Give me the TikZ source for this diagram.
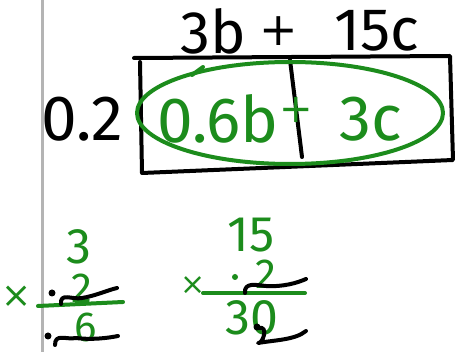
\documentclass[tikz,border=0pt]{standalone}
\usepackage{fontspec}
\setmainfont{Fira Sans}
\newfontfamily\plusfont{DejaVu Sans}
\definecolor{hgreen}{RGB}{28,140,28}
\definecolor{hgray}{RGB}{180,180,180}
\tikzset{
  ink/.style={line width=4pt, line cap=round, line join=round},
  blk/.style={ink, black},
  grn/.style={ink, hgreen},
  bigtxt/.style={inner sep=0pt, font=\fontsize{60}{60}\selectfont},
  midtxt/.style={inner sep=0pt, font=\fontsize{64}{64}\selectfont},
  smalltxt/.style={inner sep=0pt, font=\fontsize{50}{50}\selectfont, text=hgreen},
  twotxt/.style={inner sep=0pt, font=\fontsize{42}{42}\selectfont, text=hgreen},
  optxt/.style={inner sep=0pt, font=\plusfont\fontsize{46}{46}\selectfont},
}
\begin{document}
\begin{tikzpicture}[x=1pt,y=-1pt]
\useasboundingbox[fill=white] (0,0) rectangle (461,352);
% margin line
\draw[hgray, line width=3pt] (42,0) -- (42,352);
% header
\node[bigtxt] (h3b) at (213,31) {3b};
\node[optxt] (hplus) at (279,31) {+};
\node[bigtxt] (h15c) at (377,31) {15c};
% area box
\coordinate (tl) at (134,58);
\coordinate (tr) at (450,56);
\coordinate (br) at (453,160);
\coordinate (bl) at (142,173);
\draw[blk] (tl) -- (tr) -- (br) -- (bl) -- (140,62);
\coordinate (dt) at (290,60);
\coordinate (db) at (302,157);
\draw[blk] (dt) -- (db);
% side factor
\node[midtxt] (f02) at (82,119) {0.2};
% product
\node[midtxt, text=hgreen] (p1) at (218,119) {0.6b};
\node[optxt, text=hgreen, font=\plusfont\fontsize{40}{40}\selectfont] (pp) at (296,110) {+};
\node[midtxt, text=hgreen] (p2) at (371,119) {3c};
\draw[grn] (290,113) ellipse [x radius=153, y radius=51];
\draw[grn] (192,75) -- (203,67);
% left multiplication
\node[smalltxt] (m3) at (79,247) {3};
\node[twotxt] (m2) at (82,288) {2};
\node[optxt, text=hgreen, font=\plusfont\fontsize{36}{36}\selectfont] (mx) at (17,297) {×};
\fill[black] (52,293) circle (3.5);
\draw[grn] (38,306) -- (123,302);
\draw[blk] (61,304) .. controls (60,292) and (72,300) .. (82,298) .. controls (95,296) and (108,290) .. (117,288);
\node[smalltxt, font=\fontsize{42}{42}\selectfont] (m6) at (86,327) {6};
\fill[black] (48,336) circle (3.5);
\draw[blk] (55,345) .. controls (55,333) and (66,340) .. (76,338) .. controls (92,340) and (108,338) .. (118,336);
% right multiplication
\node[smalltxt] (n15) at (251,235) {15};
\node[twotxt] (n2) at (266,274) {2};
\node[optxt, text=hgreen, font=\plusfont\fontsize{30}{30}\selectfont] (nx) at (193,286) {×};
\fill[hgreen] (235,277) circle (3);
\draw[grn] (203,293) -- (305,293);
\draw[blk] (245,293) .. controls (244,282) and (256,285) .. (266,286) .. controls (283,287) and (297,283) .. (306,279);
\node[smalltxt] (n30) at (252,318) {30};
\fill[black] (257,327) circle (3.5);
\draw[blk] (258,328) .. controls (270,325) and (262,345) .. (258,343) .. controls (275,340) and (295,340) .. (306,331);
\end{tikzpicture}
\end{document}
